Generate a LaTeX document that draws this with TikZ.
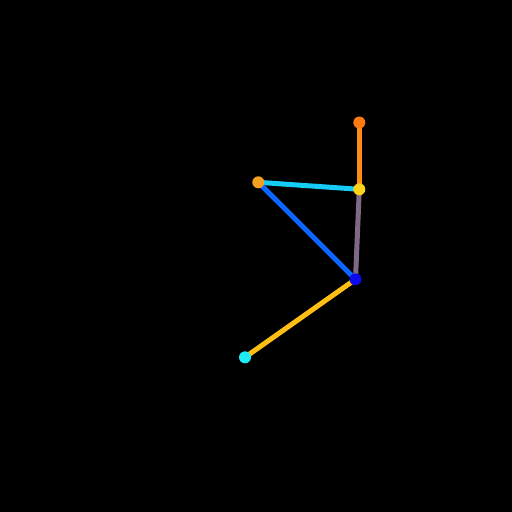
\documentclass[tikz,border=0pt]{standalone}
\begin{document}
\begin{tikzpicture}[x=1pt,y=-1pt,
  dot/.style={circle,inner sep=0pt,minimum size=12pt},
  bone/.style={line width=5pt}]
\definecolor{cOrTop}{HTML}{FF7A10}
\definecolor{cOrLine}{HTML}{FF8C14}
\definecolor{cYelDot}{HTML}{FFD21A}
\definecolor{cOrLeft}{HTML}{F5A01E}
\definecolor{cCyanLine}{HTML}{14CCF5}
\definecolor{cGrey}{HTML}{7F6A85}
\definecolor{cBlueLine}{HTML}{0A66FF}
\definecolor{cBlueDot}{HTML}{0A0AEB}
\definecolor{cYelLine}{HTML}{FFBE14}
\definecolor{cCyanDot}{HTML}{1EEBF5}
\fill[black] (0,0) rectangle (512,512);
\useasboundingbox (0,0) rectangle (512,512);
\coordinate (top) at (359.3,122.5);
\coordinate (neck) at (359.3,189.3);
\coordinate (left) at (258.3,182.3);
\coordinate (hip) at (355.5,279.3);
\coordinate (foot) at (245,357.3);
\draw[bone,cOrLine] (top) -- (neck);
\draw[bone,cCyanLine] (left) -- (neck);
\draw[bone,cGrey] (neck) -- (hip);
\draw[bone,cBlueLine] (left) -- (hip);
\draw[bone,cYelLine] (hip) -- (foot);
\node[dot,fill=cOrTop] (ntop) at (top) {};
\node[dot,fill=cYelDot] (nneck) at (neck) {};
\node[dot,fill=cOrLeft] (nleft) at (left) {};
\node[dot,fill=cBlueDot] (nhip) at (hip) {};
\node[dot,fill=cCyanDot] (nfoot) at (foot) {};
\end{tikzpicture}
\end{document}
